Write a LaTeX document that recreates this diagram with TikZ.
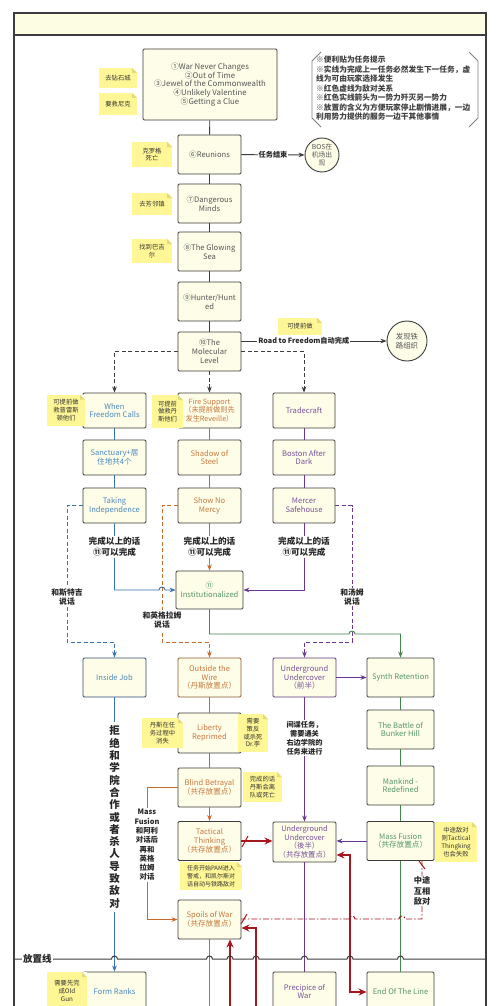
\documentclass[tikz,border=0pt]{standalone}
\usepackage{fontspec}
\setmainfont{Noto Sans CJK SC}
\usetikzlibrary{arrows.meta}
\definecolor{boxfill}{RGB}{253,253,232}
\definecolor{hdrfill}{RGB}{253,253,228}
\definecolor{stickyc}{RGB}{255,246,150}
\definecolor{foldc}{RGB}{228,218,120}
\definecolor{edgec}{RGB}{60,60,60}
\definecolor{greyt}{RGB}{85,85,85}
\definecolor{cblue}{RGB}{55,115,175}
\definecolor{tblue}{RGB}{75,135,190}
\definecolor{corange}{RGB}{200,105,45}
\definecolor{torange}{RGB}{200,120,60}
\definecolor{cpurple}{RGB}{105,55,145}
\definecolor{tpurple}{RGB}{120,80,155}
\definecolor{cgreen}{RGB}{65,135,75}
\definecolor{tgreen}{RGB}{85,150,100}
\definecolor{redc}{RGB}{165,25,30}
\definecolor{bblue}{RGB}{45,75,120}
\definecolor{bbrown}{RGB}{140,90,50}
\definecolor{bpurple}{RGB}{95,55,125}
\begin{document}
\begin{tikzpicture}[x=1pt,y=-1pt,
  every node/.style={inner sep=0pt},
  >={Stealth[length=6pt,width=4.6pt]},
  qbox/.style={draw=edgec, line width=0.9pt, fill=boxfill, rounded corners=1.2pt, align=center, text=greyt,
     font=\fontsize{7.6}{8.8}\selectfont, minimum width=63pt, minimum height=39pt},
  bluet/.style={text=tblue}, oranget/.style={text=torange}, purplet/.style={text=tpurple}, greent/.style={text=tgreen},
  sticky/.style={fill=stickyc, align=center, text=black!80, font=\fontsize{6.3}{7.8}\selectfont,
     path picture={
       \fill[white] ([xshift=-5pt]path picture bounding box.north east) -- (path picture bounding box.north east) -- ([yshift=-5pt]path picture bounding box.north east) -- cycle;
       \fill[foldc] ([xshift=-5pt]path picture bounding box.north east) -- ([xshift=-5pt,yshift=-5pt]path picture bounding box.north east) -- ([yshift=-5pt]path picture bounding box.north east) -- cycle;}},
  lbl/.style={fill=white, align=center, text=black!85, inner sep=1pt, font=\bfseries\fontsize{8.6}{10.6}\selectfont},
  slbl/.style={fill=white, align=center, text=black!85, inner sep=1pt, font=\bfseries\fontsize{7.2}{9}\selectfont},
  conn/.style={draw=edgec, line width=0.9pt},
  bconn/.style={draw=cblue, line width=0.9pt},
  oconn/.style={draw=corange, line width=0.9pt},
  pconn/.style={draw=cpurple, line width=0.9pt},
  gconn/.style={draw=cgreen, line width=0.9pt},
  dashpat/.style={dash pattern=on 4pt off 2.5pt},
  redline/.style={draw=redc, line width=2pt, arrows={-Stealth[length=8pt,width=7pt]}},
  reddd/.style={draw=redc, line width=0.9pt, dash pattern=on 6pt off 2pt on 1.5pt off 2pt}
]
\useasboundingbox (0,0) rectangle (500,1006);
\fill[white] (0,0) rectangle (500,1006);
% frame
\fill[hdrfill] (14,13) rectangle (486,35);
\draw[edgec, line width=1.1pt] (14,1030) -- (14,13) -- (486,13) -- (486,1030);
\draw[edgec, line width=1.1pt] (14,35) -- (486,35);

% legend
\draw[gray, line width=0.8pt] (321,52) -- (312,61) -- (312,118) -- (321,127);
\draw[gray, line width=0.8pt] (469,52) -- (478,61) -- (478,118) -- (469,127);
\node[anchor=north west, align=left, font=\bfseries\fontsize{7.7}{9.5}\selectfont, text=black!75] (legend) at (316,56)
 {※便利贴为任务提示\\※实线为完成上一任务必然发生下一任务，虚\\线为可由玩家选择发生\\※红色虚线为敌对关系\\※红色实线箭头为一势力歼灭另一势力\\※放置的含义为方便玩家停止剧情进展，一边\\利用势力提供的服务一边干其他事情};

% main column
\node[qbox, minimum width=134pt, minimum height=71pt, font=\fontsize{7.8}{8.7}\selectfont] (top) at (210,84.5)
 {①War Never Changes\\②Out of Time\\③Jewel of the Commonwealth\\④Unlikely Valentine\\⑤Getting a Clue};
\node[qbox] (reu) at (209.5,154.5) {⑥Reunions};
\node[qbox] (dm) at (209.5,203.5) {⑦Dangerous\\Minds};
\node[qbox] (gs) at (209.5,251.5) {⑧The Glowing\\Sea};
\node[qbox] (hh) at (209.5,301.5) {⑨Hunter/Hunt\\ed};
\node[qbox] (ml) at (209.5,351.5) {⑩The\\Molecular\\Level};
\node[draw=edgec, line width=0.9pt, fill=boxfill, circle, minimum size=34pt, align=center, text=greyt, font=\fontsize{6.8}{8.2}\selectfont] (bos) at (322,155) {BOS在\\机场出\\现};
\node[draw=edgec, line width=0.9pt, fill=boxfill, circle, minimum size=40pt, align=center, text=greyt, font=\fontsize{7.4}{9}\selectfont] (rail) at (407,341) {发现铁\\路组织};

% three branches
\node[qbox, bluet, minimum height=35pt] (wfc) at (114.5,410.5) {When\\Freedom Calls};
\node[qbox, oranget, minimum height=35pt, font=\fontsize{7.2}{8.6}\selectfont] (fs) at (209.5,410.5) {Fire Support\\（未提前做则先\\发生Reveille）};
\node[qbox, purplet, minimum height=35pt, minimum width=62pt] (tc) at (304,410.5) {Tradecraft};
\node[qbox, bluet, minimum height=35pt] (san) at (114.5,457.5) {Sanctuary+居\\住地共4个};
\node[qbox, oranget, minimum height=35pt] (sos) at (209.5,457.5) {Shadow of\\Steel};
\node[qbox, purplet, minimum height=35pt, minimum width=62pt] (bad) at (304,457.5) {Boston After\\Dark};
\node[qbox, bluet, minimum height=35pt] (ti) at (114.5,505.5) {Taking\\Independence};
\node[qbox, oranget, minimum height=35pt] (snm) at (209.5,505.5) {Show No\\Mercy};
\node[qbox, purplet, minimum height=35pt, minimum width=62pt] (ms) at (304,505.5) {Mercer\\Safehouse};
\node[qbox, greent, minimum width=67pt, minimum height=38pt] (inst) at (209.5,590) {⑪\\Institutionalized};

% lower boxes
\node[qbox, bluet, draw=bblue] (ij) at (114.5,677.5) {Inside Job};
\node[qbox, oranget, draw=bbrown] (otw) at (209.5,677.5) {Outside the\\Wire\\（丹斯放置点）};
\node[qbox, purplet, draw=bpurple] (uu1) at (304.5,677.5) {Underground\\Undercover\\（前半）};
\node[qbox, greent, minimum width=67pt] (sr) at (400.5,677.5) {Synth Retention};
\node[qbox, oranget, minimum height=40pt] (lr) at (209.5,733) {Liberty\\Reprimed};
\node[qbox, greent, minimum width=67pt] (bbh) at (400.5,729.5) {The Battle of\\Bunker Hill};
\node[qbox, oranget] (bb) at (209.5,787.5) {Blind Betrayal\\（共存放置点）};
\node[qbox, greent, minimum width=67pt] (mkr) at (400.5,785.5) {Mankind -\\Redefined};
\node[qbox, oranget] (tt) at (209.5,841) {Tactical\\Thinking\\（共存放置点）};
\node[qbox, purplet, minimum height=40pt, font=\fontsize{7.4}{8.5}\selectfont] (uu2) at (304.5,842) {Underground\\Undercover\\（後半）\\（共存放置点）};
\node[qbox, greent, minimum width=67pt] (mf) at (400.5,841) {Mass Fusion\\（共存放置点）};
\node[qbox, oranget] (sow) at (209.5,919.5) {Spoils of War\\（共存放置点）};
\node[qbox, bluet] (fr) at (114.5,991.5) {Form Ranks};
\node[qbox, purplet] (pow) at (304.5,991.5) {Precipice of\\War};
\node[qbox, greent, minimum width=67pt] (eotl) at (400.5,991.5) {End Of The Line};

% main column connectors
\draw[conn] (top) -- (reu);
\draw[conn] (reu) -- (dm);
\draw[conn] (dm) -- (gs);
\draw[conn] (gs) -- (hh);
\draw[conn] (hh) -- (ml);
\draw[conn,->] (reu) -- (bos) node[slbl, midway] {任务结束};
\draw[conn,->] (ml.east |- rail.west) -- (rail.west) node[slbl, pos=0.43] {Road to Freedom自动完成};
\draw[conn,dashpat,->] (ml.west) -| (wfc.north);
\draw[conn,dashpat,->] (ml.south) -- (fs.north);
\draw[conn,dashpat,->] (ml.east) -| (tc.north);

% branch connectors
\draw[bconn] (wfc) -- (san);
\draw[bconn] (san) -- (ti);
\draw[oconn] (fs) -- (sos);
\draw[oconn] (sos) -- (snm);
\draw[pconn] (tc) -- (bad);
\draw[pconn] (bad) -- (ms);

% dashed side branches
\draw[bconn,dashpat,->] (ti.west) -| (67,642) -| (ij.north);
\draw[oconn,dashpat,->] (snm.west) -| (162,642) -| (otw.north);
\draw[pconn,dashpat,->] (ms.east) -| (352,642) -| (uu1.north);
\node[lbl, font=\bfseries\fontsize{7.8}{9.6}\selectfont] (l1) at (67,597) {和斯特吉\\说话};
\node[lbl, font=\bfseries\fontsize{7.8}{9.6}\selectfont] (l2) at (162,620) {和英格拉姆\\说话};
\node[lbl, font=\bfseries\fontsize{7.8}{9.6}\selectfont] (l3) at (352,597) {和汤姆\\说话};

% into Institutionalized
\draw[bconn,->] (ti.south) |- (159,590) arc[start angle=180,end angle=360,radius=3] -- (inst.west);
\draw[oconn,->] (snm.south) -- (inst.north);
\draw[pconn,->] (ms.south) |- (inst.east);
\node[lbl] (c1) at (114.5,547) {完成以上的话\\⑪可以完成};
\node[lbl] (c2) at (209.5,547) {完成以上的话\\⑪可以完成};
\node[lbl] (c3) at (304,547) {完成以上的话\\⑪可以完成};
\draw[gconn,->] (inst.south) |- (349,634) arc[start angle=180,end angle=360,radius=3] -| (sr.north);

% lower connectors
\draw[bconn,->] (ij.south) -- (fr.north);
\node[fill=white, align=center, text=black!85, font=\bfseries\fontsize{10.5}{12.3}\selectfont, inner ysep=4pt, inner xsep=1pt] (vt) at (114.5,817)
 {拒\\绝\\和\\学\\院\\合\\作\\或\\者\\杀\\人\\导\\致\\敌\\对};
\draw[oconn] (otw) -- (lr);
\draw[oconn] (lr) -- (bb);
\draw[oconn,->] (bb) -- (tt);
\draw[oconn,->] (bb.west) -| (147,919.5) -- (sow.west);
\node[slbl, font=\bfseries\fontsize{7.4}{9.3}\selectfont] (mfl) at (147,845) {Mass\\Fusion\\和阿利\\对话后\\再和\\英格\\拉姆\\对话};
\draw[oconn] (sow.south) -- (209.5,1030);
\draw[pconn,->] (uu1) -- (sr);
\draw[pconn,->] (uu1) -- (uu2);
\node[slbl] (spy) at (304.5,738) {间谍任务，\\需要通关\\右边学院的\\任务来进行};
\draw[gconn] (sr) -- (bbh);
\draw[gconn] (bbh) -- (mkr);
\draw[gconn] (mkr) -- (mf);
\draw[pconn,->] (mf.west) -- (uu2.east |- mf.west);
\draw[gconn] (mf.south) -- (eotl.north);
\draw[pconn] (uu2.south) -- (pow.north);

% red connectors
\draw[redline] (tt.east) -- (uu2.west |- tt.east);
\draw[redc, line width=1pt] (242,847) -- (248,836);
\coordinate (ra) at (350,855);
\coordinate (rb) at (350,992);
\draw[redline, arrows={Stealth[length=8pt,width=7pt]-Stealth[length=8pt,width=7pt]}] (uu2.east |- ra) -- (ra) -- (rb) -- (eotl.west |- rb);
\coordinate (rc) at (230,1030);
\draw[redline] (rc) -- (rc |- sow.south);
\coordinate (rd) at (256,1030);
\coordinate (re) at (256,928);
\draw[redline] (rd) -- (re) -- (sow.east |- re);
% hostile dash-dot
\coordinate (hy) at (0,919);
\draw[reddd] (422,860) -- (422,919) -- (405,919) arc[start angle=360,end angle=180,radius=3] -- (355,919) arc[start angle=360,end angle=180,radius=3] -- (sow.east |- hy);
\draw[redc, line width=1pt] (419,861) -- (425,869);
\draw[redc, line width=1pt] (241,924) -- (247,914);
\node[lbl, font=\bfseries\fontsize{8.2}{10.5}\selectfont] (hx) at (422,891) {中途\\互相\\敌对};

% placement line
\draw[edgec, line width=1pt] (14,959) -- (111.5,959) arc[start angle=180,end angle=360,radius=3]
 -- (206.5,959) arc[start angle=180,end angle=360,radius=3]
 -- (227,959) arc[start angle=180,end angle=360,radius=3]
 -- (253,959) arc[start angle=180,end angle=360,radius=3]
 -- (301.5,959) arc[start angle=180,end angle=360,radius=3]
 -- (347,959) arc[start angle=180,end angle=360,radius=3]
 -- (397.5,959) arc[start angle=180,end angle=360,radius=3]
 -- (486,959);
\node[lbl, font=\bfseries\fontsize{9.5}{11}\selectfont] (plc) at (37.5,959) {放置线};

% sticky notes
\node[sticky, minimum width=38pt, minimum height=20pt] (s1) at (118,78) {去钻石城};
\node[sticky, minimum width=38pt, minimum height=22pt] (s2) at (118,104) {要救尼克};
\node[sticky, minimum width=40pt, minimum height=25pt] (s3) at (152,154.5) {克罗格\\死亡};
\node[sticky, minimum width=40pt, minimum height=22pt] (s4) at (152,204) {去芳邻镇};
\node[sticky, minimum width=40pt, minimum height=24pt] (s5) at (152,251) {找到巴吉\\尔};
\node[sticky, minimum width=44pt, minimum height=17pt] (s6) at (300,326.5) {可提前做};
\node[sticky, minimum width=38pt, minimum height=31pt] (s7) at (66,410) {可提前做\\救普雷斯\\顿他们};
\node[sticky, minimum width=31pt, minimum height=33pt] (s8) at (167.5,411.5) {可提前\\做救丹\\斯他们};
\node[sticky, minimum width=41pt, minimum height=30pt] (s9) at (162.5,733) {丹斯在任\\务过程中\\消失};
\node[sticky, minimum width=30pt, minimum height=38pt] (s10) at (253,733) {需要\\策反\\或杀死\\Dr.李};
\node[sticky, minimum width=39pt, minimum height=30pt] (s11) at (262.5,787) {完成的话\\丹斯会离\\队或死亡};
\node[sticky, minimum width=62pt, minimum height=28pt, font=\fontsize{6}{7.8}\selectfont] (s12) at (211,876) {任务开始PAM进入\\警戒，和凯尔斯对\\话自动与铁路敌对};
\node[sticky, minimum width=42pt, minimum height=40pt] (s13) at (456,842) {中途敌对\\则Tactical\\Thingking\\也会失败};
\node[sticky, minimum width=40pt, minimum height=38pt] (s14) at (67,991) {需要先完\\成Old\\Gun};
\end{tikzpicture}
\end{document}
